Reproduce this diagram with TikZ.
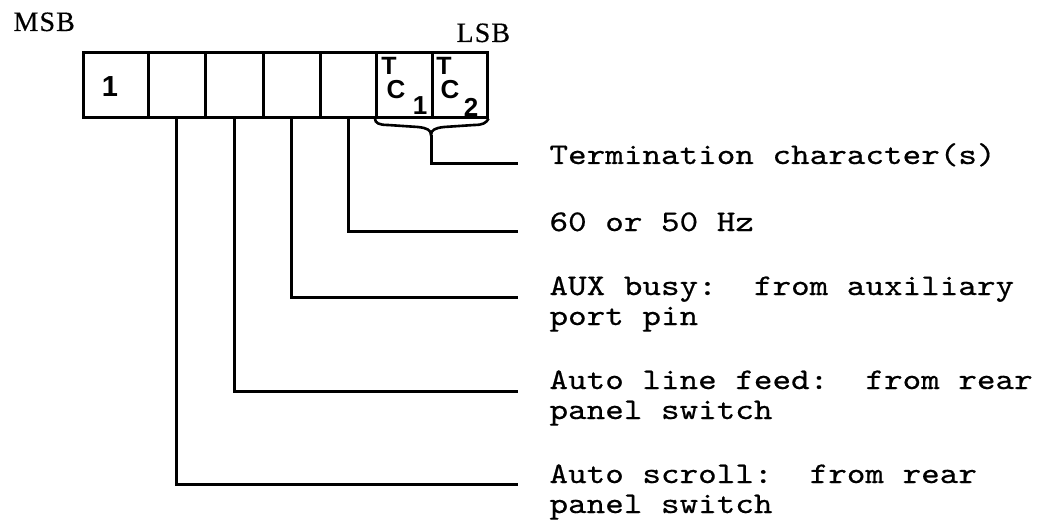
\documentclass[tikz,border=0pt]{standalone}
\usepackage{fontspec}
\setmainfont{Liberation Serif}
\setsansfont{Liberation Sans}
\newfontfamily\typew{lmmono10-regular.otf}[FakeStretch=1.18,FakeBold=0.5]
\begin{document}
\begin{tikzpicture}[x=1pt,y=-1pt,line width=3pt,
  cell/.style={draw,line width=2.6pt,minimum height=65pt,inner sep=0pt,anchor=north west},
  lbl/.style={font=\typew\fontsize{30}{30}\selectfont,anchor=base west,inner sep=0pt},
  bitlbl/.style={font=\fontsize{28}{28}\selectfont\addfontfeature{LetterSpace=4,FakeBold=0.4},anchor=base west,inner sep=0pt},
  csmall/.style={font=\fontsize{25}{25}\selectfont\sffamily\bfseries,inner sep=0pt},
  cbig/.style={font=\fontsize{26}{26}\selectfont\sffamily\bfseries,inner sep=0pt},
  wire/.style={line width=3pt}]
\useasboundingbox (0,0) rectangle (1049,524);
% bit cells
\node[cell,minimum width=65pt] (c1) at (82,51) {};
\node[cell,minimum width=57pt] (c2) at (147,51) {};
\node[cell,minimum width=58pt] (c3) at (204,51) {};
\node[cell,minimum width=57pt] (c4) at (262,51) {};
\node[cell,minimum width=56pt] (c5) at (319,51) {};
\node[cell,minimum width=56pt] (c6) at (375,51) {};
\node[cell,minimum width=55pt] (c7) at (431,51) {};
% cell texts
\node[font=\fontsize{29}{29}\selectfont\sffamily\bfseries,inner sep=0pt] (one) at (110,87) {1};
\node[csmall] (t1) at (389,66) {T};
\node[cbig] (cc1) at (396,90) {C};
\node[cbig] (s1) at (420,106) {1};
\node[csmall] (t2) at (444,66) {T};
\node[cbig] (cc2) at (450,90) {C};
\node[cbig] (s2) at (471,107) {2};
% MSB / LSB
\node[bitlbl] (msb) at (12,31) {MSB};
\node[bitlbl] (lsb) at (455,42) {LSB};
% brace
\coordinate (tip) at (431,135);
\draw[line width=2.6pt] (c6.south west) .. controls (375,123) and (379,125) .. (388,125)
  -- (418,127) .. controls (427,128) and (431,130) .. (tip)
  .. controls (431,130) and (435,128) .. (444,127)
  -- (474,125) .. controls (483,125) and (486,123) .. (c7.south east);
% line ends
\coordinate (e1) at (518,163);
\coordinate (e2) at (518,231);
\coordinate (e3) at (518,297);
\coordinate (e4) at (518,391);
\coordinate (e5) at (518,484);
% labels
\node[lbl] (l1) at (548,164) {Termination character(s)};
\node[lbl] (l2) at (548,231) {60 or 50 Hz};
\node[lbl] (l3a) at (548,295) {AUX busy:\ \ from auxiliary};
\node[lbl] (l3b) at (548,325) {port pin};
\node[lbl] (l4a) at (548,389) {Auto line feed:\ \ from rear};
\node[lbl] (l4b) at (548,419) {panel switch};
\node[lbl] (l5a) at (548,483) {Auto scroll:\ \ from rear};
\node[lbl] (l5b) at (548,513) {panel switch};
% connectors
\draw[wire] (tip) |- (e1);
\draw[wire] (c5.south) |- (e2);
\draw[wire] (c4.south) |- (e3);
\draw[wire] (c3.south) |- (e4);
\draw[wire] (c2.south) |- (e5);
\end{tikzpicture}
\end{document}
